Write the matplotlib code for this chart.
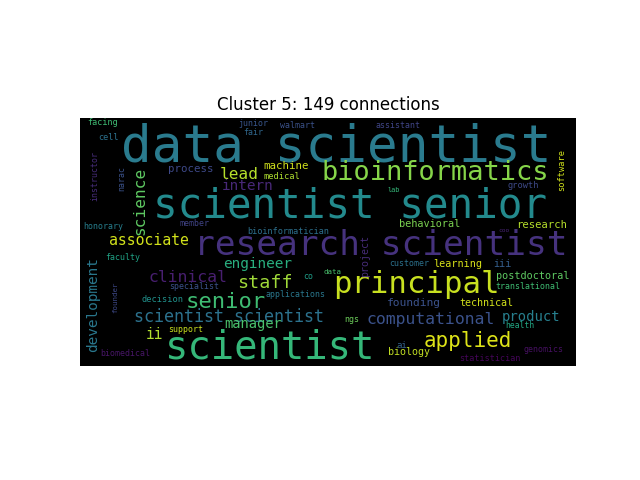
import numpy as np
import matplotlib
matplotlib.use("Agg")
import matplotlib.pyplot as plt

# word cloud data: words and relative frequency (1.0 = most frequent)
words = [
    "data scientist", "scientist senior", "research scientist", "bioinformatics",
    "principal", "scientist", "senior", "staff", "scientist scientist",
    "computational", "applied", "lead", "machine", "medical", "intern",
    "process", "science", "associate", "development", "clinical", "engineer",
    "manager", "ii", "data", "project", "learning", "iii", "customer",
    "postdoctoral", "translational", "technical", "founding", "product",
    "health", "ngs", "ai", "biology", "genomics", "statistician", "support",
    "biomedical", "founder", "decision", "specialist", "applications", "co",
    "faculty", "honorary", "member", "bioinformatician", "instructor", "narac",
    "cell", "facing", "junior", "fair", "walmart", "assistant", "software",
    "growth", "lab", "behavioral", "research", "coo",
]
freqs = [
    1.0, 0.804, 0.676, 0.529, 0.6, 0.763, 0.436, 0.36, 0.327, 0.322, 0.409,
    0.316, 0.21, 0.172, 0.281, 0.21, 0.316, 0.289, 0.281, 0.322, 0.283, 0.27,
    0.286, 0.147, 0.196, 0.199, 0.199, 0.163, 0.199, 0.161, 0.196, 0.221,
    0.272, 0.158, 0.163, 0.177, 0.196, 0.161, 0.166, 0.163, 0.161, 0.144,
    0.169, 0.163, 0.163, 0.163, 0.163, 0.163, 0.163, 0.166, 0.161, 0.163,
    0.166, 0.166, 0.163, 0.163, 0.163, 0.163, 0.169, 0.169, 0.136, 0.202,
    0.207, 0.123,
]

# layout of the cloud (canvas pixels, x left / baseline y; vertical words by centre)
layout = [
    (41, 43, 0), (73, 99, 0), (114, 137, 0), (241, 62, 0), (253, 175, 0),
    (85, 240, 0), (106, 190, 0), (157, 170, 0), (54, 204, 0), (286, 206, 0),
    (344, 229, 0), (140, 61, 0), (183, 51, 0), (184, 61, 0), (142, 72, 0),
    (88, 54, 0), (60, 82, 90), (29, 127, 0), (13, 186, 90), (68, 164, 0),
    (143, 150, 0), (144, 210, 0), (66, 221, 0), (243, 156, 0), (285, 138, 90),
    (353, 149, 0), (413, 149, 0), (309, 148, 0), (416, 161, 0), (415, 171, 0),
    (379, 188, 0), (307, 188, 0), (422, 203, 0), (425, 210, 0), (264, 204, 0),
    (316, 230, 0), (308, 237, 0), (443, 234, 0), (379, 243, 0), (88, 214, 0),
    (20, 238, 0), (35, 179, 90), (62, 184, 0), (89, 171, 0), (185, 179, 0),
    (223, 161, 0), (25, 142, 0), (3, 111, 0), (99, 108, 0), (167, 116, 0),
    (15, 58, 90), (42, 60, 90), (18, 22, 0), (7, 7, 0), (158, 8, 0),
    (163, 17, 0), (200, 10, 0), (296, 10, 0), (482, 52, 90), (427, 70, 0),
    (307, 74, 0), (319, 109, 0), (436, 110, 0), (418, 114, 0),
]
colors = [
    "#2a7b8e", "#238a8d", "#46327e", "#86d549", "#c8e020", "#35b779", "#3fbc73",
    "#a0da39", "#2c728e", "#3b528b", "#dde318", "#b5de2b", "#d0e11c", "#addc30",
    "#482878", "#3e4989", "#5ec962", "#d2e21b", "#2a788e", "#481f70", "#29af7f",
    "#4ac16d", "#b0dd2f", "#4ac16d", "#472c7a", "#d8e219", "#355f8d", "#2c728e",
    "#5ec962", "#3fbc73", "#d2e21b", "#3b528b", "#277f8e", "#22a884", "#6ccd5a",
    "#33638d", "#c2df23", "#471063", "#450559", "#cae11f", "#481668", "#3e4989",
    "#21918c", "#3b528b", "#2a788e", "#1f9e89", "#20a386", "#277f8e", "#414487",
    "#2d708e", "#472d7b", "#3b528b", "#2c728e", "#3fbc73", "#39568c", "#31688e",
    "#3b528b", "#404688", "#d0e11c", "#3e4a89", "#35b779", "#7ad151", "#b5de2b",
    "#482475",
]

MAX_PT = 36.7
W, H = 496, 248

fig, ax = plt.subplots(figsize=(6.4, 4.8), dpi=100)
ax.imshow(np.zeros((200, 400, 3)), extent=(0, W, H, 0), interpolation="nearest")

for w, f, (x, y, rot), c in zip(words, freqs, layout, colors):
    if rot:
        ax.text(x, y, w, fontsize=MAX_PT * f, color=c, rotation=rot,
                ha="center", va="center", family="DejaVu Sans Mono")
    else:
        ax.text(x, y, w, fontsize=MAX_PT * f, color=c,
                ha="left", va="baseline", family="DejaVu Sans Mono")

ax.set_xlim(0, W)
ax.set_ylim(H, 0)
ax.axis("off")
ax.set_title("Cluster 5: 149 connections")
fig.savefig("out.png", dpi=100)
